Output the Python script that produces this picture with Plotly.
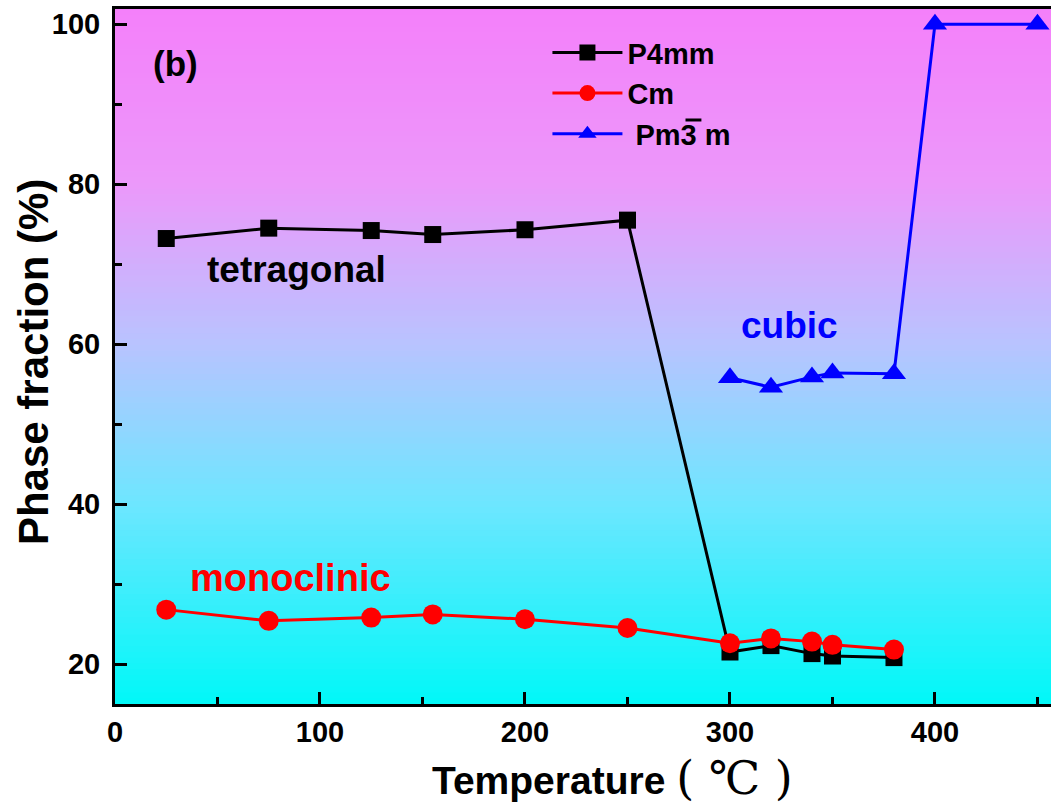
import plotly.graph_objects as go

# ---- data ----
temp_t = [25, 75, 125, 155, 200, 250, 300, 320, 340, 350, 380]
p4mm = [73.2, 74.5, 74.2, 73.7, 74.3, 75.5, 21.5, 22.3, 21.3, 21.0, 20.8]
cm = [26.8, 25.4, 25.8, 26.2, 25.6, 24.5, 22.6, 23.2, 22.8, 22.4, 21.8]
temp_c = [300, 320, 340, 350, 380, 400, 450]
pm3m = [55.8, 54.6, 55.9, 56.4, 56.3, 100, 100]

x_ticks = [0, 100, 200, 300, 400]
y_ticks = [20, 40, 60, 80, 100]

FONT = "Arial, Liberation Sans, sans-serif"

fig = go.Figure()
fig.add_trace(go.Scatter(x=temp_t, y=p4mm, mode="lines+markers", name="P4mm",
                         line=dict(color="black", width=3),
                         marker=dict(symbol="square", size=17, color="black")))
fig.add_trace(go.Scatter(x=temp_t, y=cm, mode="lines+markers", name="Cm",
                         line=dict(color="#FF0000", width=3),
                         marker=dict(symbol="circle", size=20, color="#FF0000")))
fig.add_trace(go.Scatter(x=temp_c, y=pm3m, mode="lines+markers", name=" Pm3 m",
                         line=dict(color="#0000FF", width=3),
                         marker=dict(symbol="triangle-up", size=21, color="#0000FF")))

# gradient background (magenta top -> cyan bottom)
stops = [(0.0, (0, 248, 248)), (0.29, (110, 230, 255)), (0.52, (185, 195, 255)),
         (0.75, (236, 152, 250)), (1.0, (244, 128, 250))]

def col(t):
    for (t0, c0), (t1, c1) in zip(stops[:-1], stops[1:]):
        if t0 <= t <= t1:
            f = (t - t0) / (t1 - t0)
            return "rgb(%d,%d,%d)" % tuple(round(a + (b - a) * f) for a, b in zip(c0, c1))
    return "rgb(%d,%d,%d)" % stops[-1][1]

shapes = []
N = 120
for i in range(N):
    y0 = i / N
    y1 = (i + 1) / N
    shapes.append(dict(type="rect", xref="paper", yref="paper", x0=0, x1=1, y0=y0, y1=y1 + 0.002,
                       fillcolor=col((y0 + y1) / 2), line=dict(width=0), layer="below"))
# overline on the "3" of Pm-3m in the legend
shapes.append(dict(type="line", xref="paper", yref="paper", x0=0.6095, x1=0.6265, y0=0.8403, y1=0.8403,
                   line=dict(color="black", width=3), layer="above"))

annos = [
    dict(x=29.5, y=95.1, text="<b>(b)</b>", font=dict(size=35, color="black")),
    dict(x=88.5, y=69.3, text="<b>tetragonal</b>", font=dict(size=37, color="black")),
    dict(x=328.8, y=62.3, text="<b>cubic</b>", font=dict(size=37, color="#0000FF")),
    dict(x=85.4, y=30.8, text="<b>monoclinic</b>", font=dict(size=38, color="#FF0000")),
]
for a in annos:
    a.update(xref="x", yref="y", showarrow=False, xanchor="center", yanchor="middle")
    a["font"]["family"] = FONT

# axis titles
annos.append(dict(xref="paper", yref="paper", x=0.532, y=-0.1065, showarrow=False,
                  xanchor="center", yanchor="middle",
                  text="<b>Temperature </b><span style='font-family:DejaVu Serif; font-size:46px'>( ℃ )</span>",
                  font=dict(size=39, family=FONT, color="black")))
annos.append(dict(xref="paper", yref="paper", x=-0.0876, y=0.492, showarrow=False,
                  xanchor="center", yanchor="middle", textangle=-90,
                  text="<b>Phase fraction (%)</b>", font=dict(size=42, family=FONT, color="black")))

fig.update_layout(
    width=1051, height=808,
    margin=dict(l=115, r=0, t=9, b=104),
    paper_bgcolor="white", plot_bgcolor="white",
    shapes=shapes, annotations=annos,
    font=dict(family=FONT, color="black"),
    showlegend=True,
    legend=dict(x=0.462, y=0.974, xanchor="left", yanchor="top",
                bgcolor="rgba(0,0,0,0)", font=dict(size=29, family=FONT, color="black", weight="bold"),
                itemwidth=70, tracegroupgap=0),
    xaxis=dict(range=[0, 456.6], tickvals=x_ticks, ticks="inside", ticklen=12, tickwidth=3,
               tickcolor="black", showline=True, linewidth=3, linecolor="black", mirror=True,
               showgrid=False, zeroline=False,
               tickfont=dict(size=29, family=FONT, weight="bold"),
               minor=dict(dtick=50, tick0=0, ticks="inside", ticklen=7, tickwidth=3, tickcolor="black")),
    yaxis=dict(range=[15, 101.9], tickvals=y_ticks, ticks="inside", ticklen=12, tickwidth=3,
               tickcolor="black", showline=True, linewidth=3, linecolor="black", mirror=False,
               showgrid=False, zeroline=False, ticklabelstandoff=6,
               tickfont=dict(size=29, family=FONT, weight="bold"),
               minor=dict(dtick=10, tick0=0, ticks="inside", ticklen=7, tickwidth=3, tickcolor="black")),
)

fig.write_html("out.html")
